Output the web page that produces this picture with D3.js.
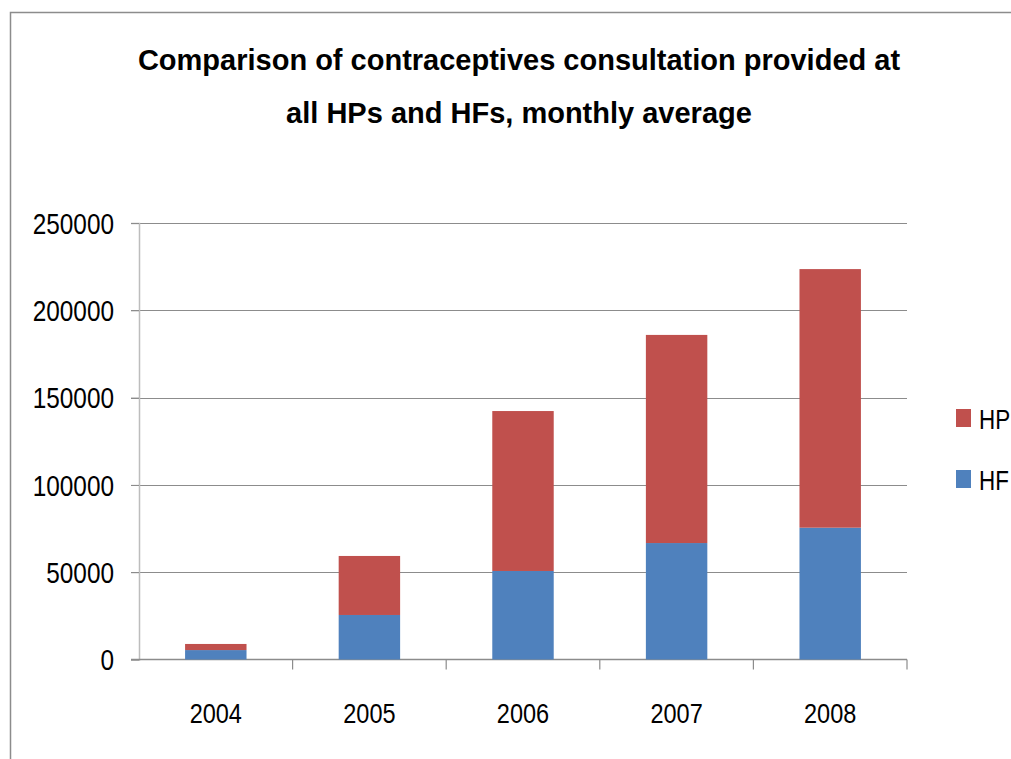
<!DOCTYPE html>
<html>
<head>
<script src="https://d3js.org/d3.v7.min.js"></script>
<style>
  body { margin: 0; background: #fff; }
  text { font-family: "Liberation Sans", Arial, sans-serif; }
</style>
</head>
<body>
<script>
var years = ["2004", "2005", "2006", "2007", "2008"];
var hf = [5400, 25500, 50700, 66700, 75500];
var hp = [3500, 33800, 91600, 119200, 148100];
var yTicks = [0, 50000, 100000, 150000, 200000, 250000];
var seriesNames = ["HF", "HP"];
var colors = { HF: "#4F81BD", HP: "#C0504D" };

var width = 1011, height = 759;
var plotLeft = 139, plotRight = 907, plotTop = 223, plotBottom = 659.5;

// squeeze text horizontally to mimic the narrow original face
function squeeze(sel, f) {
    sel.each(function () {
        var len = this.getComputedTextLength();
        d3.select(this).attr("textLength", len * f).attr("lengthAdjust", "spacingAndGlyphs");
    });
}

var svg = d3.select("body").append("svg")
    .attr("width", width)
    .attr("height", height);

// outer frame (only left and top edges visible)
svg.append("path")
    .attr("d", "M10.5,759 L10.5,12.5 L1011,12.5")
    .style("fill", "none")
    .style("stroke", "#8c8c8c")
    .style("stroke-width", 1.5);

var rows = years.map(function (y, i) { return { year: y, HF: hf[i], HP: hp[i] }; });
var stacked = d3.stack().keys(seriesNames)(rows);

var x = d3.scaleBand().domain(years).range([plotLeft, plotRight]).paddingInner(0.6).paddingOuter(0.3);
var xb = d3.scaleBand().domain(years).range([plotLeft, plotRight]);
var y = d3.scaleLinear().domain([0, 250000]).range([plotBottom, plotTop]);

// gridlines
svg.selectAll(".grid")
    .data(yTicks.slice(1))
    .enter().append("line")
    .attr("class", "grid")
    .attr("x1", plotLeft - 8).attr("x2", plotRight)
    .attr("y1", function (d) { return Math.round(y(d)) + 0.5; })
    .attr("y2", function (d) { return Math.round(y(d)) + 0.5; })
    .style("stroke", "#8c8c8c")
    .style("stroke-width", 1.2);

// y axis
var yAxis = svg.append("g")
    .attr("transform", "translate(" + plotLeft + ",0)")
    .call(d3.axisLeft(y).tickValues(yTicks).tickSize(8).tickPadding(17).tickFormat(d3.format("d")));
yAxis.select(".domain").style("stroke", "#bdbdbd").style("stroke-width", 1.5);
yAxis.selectAll(".tick line").style("stroke", "#8c8c8c");
yAxis.selectAll("text")
    .attr("font-family", null)
    .style("font-size", "29px").style("fill", "#000").attr("dy", "0.35em")
    .call(squeeze, 0.84);

// x axis
var xAxis = svg.append("g")
    .attr("transform", "translate(0," + plotBottom + ")");
xAxis.append("line")
    .attr("x1", plotLeft - 8).attr("x2", plotRight)
    .attr("y1", 0).attr("y2", 0)
    .style("stroke", "#8c8c8c").style("stroke-width", 1.5);
xAxis.selectAll(".xt")
    .data(years)
    .enter().append("line")
    .attr("class", "xt")
    .attr("x1", function (d) { return xb(d) + xb.bandwidth(); })
    .attr("x2", function (d) { return xb(d) + xb.bandwidth(); })
    .attr("y1", 0).attr("y2", 10)
    .style("stroke", "#8c8c8c").style("stroke-width", 1.2);
xAxis.selectAll(".xl")
    .data(years)
    .enter().append("text")
    .attr("class", "xl")
    .attr("x", function (d) { return xb(d) + xb.bandwidth() / 2; })
    .attr("y", 63)
    .attr("text-anchor", "middle")
    .style("font-size", "28px")
    .text(function (d) { return d; })
    .call(squeeze, 0.84);

// bars
svg.selectAll(".series")
    .data(stacked)
    .enter().append("g")
    .attr("class", "series")
    .style("fill", function (d) { return colors[d.key]; })
    .selectAll("rect")
    .data(function (d) { return d; })
    .enter().append("rect")
    .attr("x", function (d) { return x(d.data.year); })
    .attr("width", x.bandwidth())
    .attr("y", function (d) { return y(d[1]); })
    .attr("height", function (d) { return y(d[0]) - y(d[1]); });

// legend
var legendItems = ["HP", "HF"];
var legend = svg.selectAll(".legend")
    .data(legendItems)
    .enter().append("g")
    .attr("class", "legend")
    .attr("transform", function (d, i) { return "translate(956," + (409 + i * 61) + ")"; });
legend.append("rect")
    .attr("width", 15).attr("height", 18)
    .style("fill", function (d) { return colors[d]; });
legend.append("text")
    .attr("x", 23).attr("y", 20)
    .style("font-size", "28px")
    .text(function (d) { return d; })
    .call(squeeze, 0.8);

// title
var title = svg.append("text")
    .attr("x", 519)
    .attr("text-anchor", "middle")
    .style("font-size", "29px")
    .style("font-weight", "bold");
title.append("tspan").attr("x", 519).attr("y", 70).text("Comparison of contraceptives consultation provided at");
title.append("tspan").attr("x", 519).attr("y", 123).text("all HPs and HFs, monthly average");
</script>
</body>
</html>
